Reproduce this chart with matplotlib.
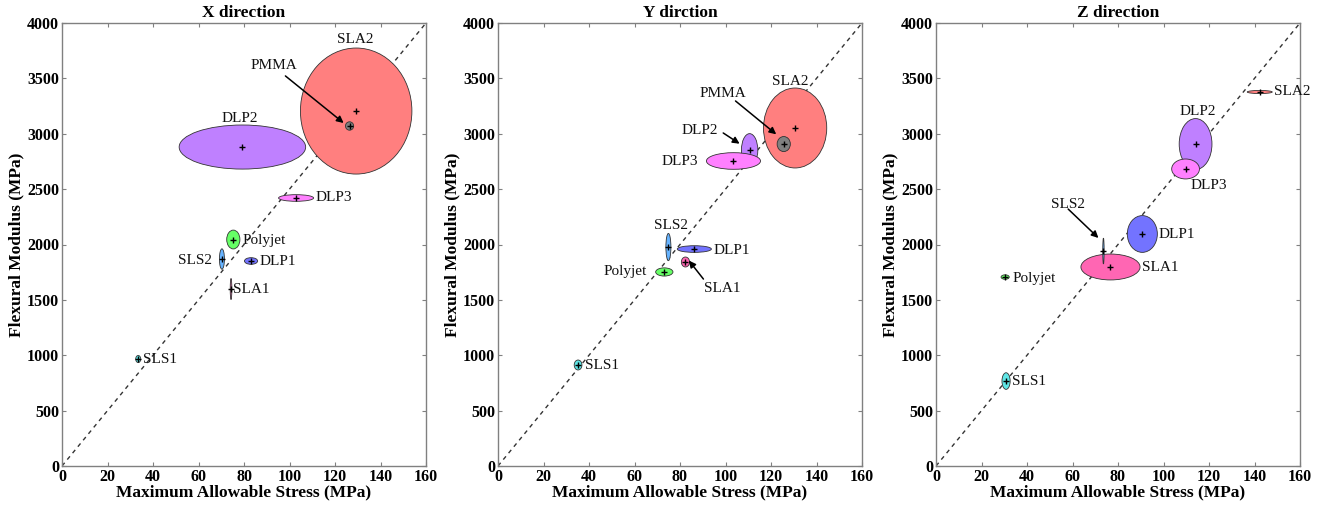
import matplotlib
matplotlib.use("Agg")
import matplotlib.pyplot as plt
from matplotlib.patches import Ellipse

plt.rcParams['font.family'] = ['Liberation Serif', 'DejaVu Serif']

# ---------------- data ----------------
titles = ["X direction", "Y dirction", "Z direction"]

materials = ["SLA1", "SLA2", "DLP1", "DLP2", "DLP3", "Polyjet", "SLS1", "SLS2", "PMMA"]

# mean stress (MPa), mean modulus (MPa), stress spread (half width), modulus spread (half height)
x_stress = [74.3, 129.3, 83.1, 79.3, 102.9, 75.3, 33.5, 70.3, 126.4]
x_modulus = [1598, 3205, 1851, 2880, 2420, 2045, 966, 1869, 3070]
x_sd_stress = [0.35, 24.5, 2.9, 27.8, 7.7, 2.9, 1.1, 1.1, 1.8]
x_sd_modulus = [95, 569, 30, 199, 30, 85, 32, 92, 38]

y_stress = [82.4, 130.6, 86.3, 110.6, 103.5, 73.1, 35.2, 74.9, 125.6]
y_modulus = [1842, 3052, 1959, 2853, 2754, 1752, 912, 1977, 2907]
y_sd_stress = [1.8, 13.9, 7.5, 3.6, 11.9, 3.8, 1.7, 1.1, 2.9]
y_sd_modulus = [45, 361, 30, 148, 75, 37, 45, 123, 68]

z_stress = [76.7, 142.3, 90.7, 114.1, 109.7, 30.4, 30.8, 73.6]
z_modulus = [1797, 3377, 2095, 2907, 2682, 1706, 767, 1941]
z_sd_stress = [13.0, 5.5, 6.6, 7.2, 6.1, 1.8, 1.8, 0.3]
z_sd_modulus = [117, 14, 166, 230, 90, 20, 75, 117]

colors = {
    "SLA1": "#ff66b3", "SLA2": "#ff7f7f", "DLP1": "#7373ff", "DLP2": "#bf80ff",
    "DLP3": "#ff80ff", "Polyjet": "#66ff66", "SLS1": "#5fe6e6", "SLS2": "#66b3ff",
    "PMMA": "#808080",
}

# label placement: (x, y, ha)
labels_x = {
    "SLA1": (75.3, 1598, "left"), "SLA2": (129, 3855, "center"), "DLP1": (86.8, 1851, "left"),
    "DLP2": (78, 3142, "center"), "DLP3": (111.5, 2420, "left"), "Polyjet": (79.3, 2040, "left"),
    "SLS1": (35.7, 966, "left"), "SLS2": (66, 1860, "right"), "PMMA": (93, 3612, "center"),
}
labels_y = {
    "SLA1": (90.7, 1607, "left"), "SLA2": (128.6, 3476, "center"), "DLP1": (94.7, 1950, "left"),
    "DLP2": (96.9, 3025, "right"), "DLP3": (88.1, 2745, "right"), "Polyjet": (65.6, 1752, "right"),
    "SLS1": (38.3, 903, "left"), "SLS2": (76, 2176, "center"), "PMMA": (99, 3359, "center"),
}
labels_z = {
    "SLA1": (90.7, 1788, "left"), "SLA2": (148.5, 3377, "left"), "DLP1": (97.8, 2086, "left"),
    "DLP2": (115, 3205, "center"), "DLP3": (119.8, 2537, "center"), "Polyjet": (33.5, 1697, "left"),
    "SLS1": (33.5, 767, "left"), "SLS2": (58.1, 2357, "center"),
}
# arrows: (tail x, tail y, head x, head y)
arrows_x = [(98.2, 3522, 123.8, 3097)]
arrows_y = [(104.4, 3296, 122.3, 2995), (99.0, 3007, 106.2, 2910), (90.3, 1688, 83.9, 1855)]
arrows_z = [(58.1, 2320, 71.4, 2059)]

panels = [
    (x_stress, x_modulus, x_sd_stress, x_sd_modulus, labels_x, arrows_x),
    (y_stress, y_modulus, y_sd_stress, y_sd_modulus, labels_y, arrows_y),
    (z_stress, z_modulus, z_sd_stress, z_sd_modulus, labels_z, arrows_z),
]

ratio = 25.0  # modulus / stress reference line
xticks = [0, 20, 40, 60, 80, 100, 120, 140, 160]
yticks = [0, 500, 1000, 1500, 2000, 2500, 3000, 3500, 4000]

# ---------------- figure ----------------
fig = plt.figure(figsize=(13.22, 5.12), dpi=100)
lefts_px = [62, 498, 936]
w_px = 364
bottom = 1 - 466 / 512
height = (466 - 23) / 512

for i, (xs, ys, sx, sy, labs, arrs) in enumerate(panels):
    ax = fig.add_axes([lefts_px[i] / 1322, bottom, w_px / 1322, height])
    ax.set_xlim(0, 160)
    ax.set_ylim(0, 4000)
    ax.plot([0, 160], [0, 160 * ratio], color="#333333", lw=1.0,
            linestyle=(0, (3, 3)), zorder=1)
    for k in range(len(xs)):
        name = materials[k]
        e = Ellipse((xs[k], ys[k]), 2 * sx[k], 2 * sy[k], facecolor=colors[name],
                    edgecolor="#333333", lw=0.6, zorder=2)
        ax.add_patch(e)
        ax.plot(xs[k], ys[k], marker="+", color="black", ms=5, mew=1.0, zorder=4)
        tx, ty, ha = labs[name]
        ax.text(tx, ty, name, ha=ha, va="center", fontsize=11, color="#111111", zorder=5)
    for (x0, y0, x1, y1) in arrs:
        ax.annotate("", xy=(x1, y1), xytext=(x0, y0),
                    arrowprops=dict(arrowstyle="-|>", color="black", lw=1.1,
                                    mutation_scale=10, shrinkA=0, shrinkB=0), zorder=6)
    ax.set_xticks(xticks)
    ax.set_yticks(yticks)
    ax.set_xticklabels([str(t) for t in xticks], fontsize=11.5, fontweight="bold")
    ax.set_yticklabels([str(t) for t in yticks], fontsize=11.5, fontweight="bold")
    ax.tick_params(direction="in", length=3, width=0.8, color="#808080",
                   top=True, right=True, pad=2)
    for sp in ax.spines.values():
        sp.set_color("#808080")
        sp.set_linewidth(1.0)
    ax.set_title(titles[i], fontsize=12.5, fontweight="bold", pad=4)
    ax.set_xlabel("Maximum Allowable Stress (MPa)", fontsize=12.5, fontweight="bold", labelpad=0)
    ax.set_ylabel("Flexural Modulus (MPa)", fontsize=12.5, fontweight="bold", labelpad=2)

fig.savefig("out.png", dpi=100)
